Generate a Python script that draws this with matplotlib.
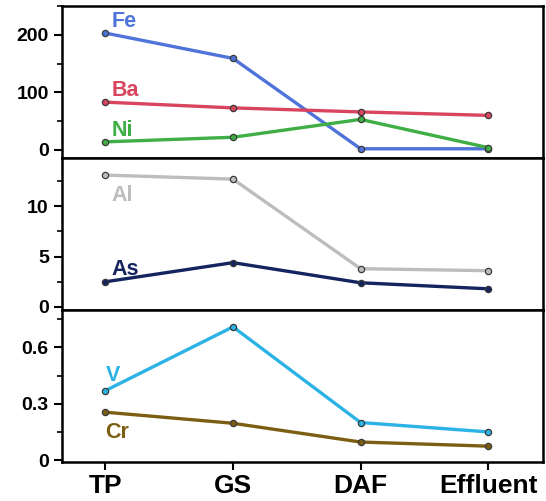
import matplotlib
matplotlib.use("Agg")
import matplotlib.pyplot as plt
from matplotlib.ticker import MultipleLocator

plt.rcParams['font.family'] = ['Liberation Sans', 'DejaVu Sans']
plt.rcParams['font.weight'] = 'bold'

stages = ['TP', 'GS', 'DAF', 'Effluent']

fe = [203, 159, 2, 2]
ba = [83, 73, 66, 60]
ni = [14, 22, 53, 4]
al = [13.1, 12.7, 3.8, 3.6]
as_ = [2.5, 4.4, 2.4, 1.8]
v = [0.37, 0.71, 0.20, 0.15]
cr = [0.255, 0.196, 0.096, 0.074]

panels = [
    [('Fe', fe, '#4f73d9', (0.05, 213)), ('Ba', ba, '#d9455f', (0.05, 93)), ('Ni', ni, '#3fae45', (0.05, 25))],
    [('Al', al, '#bdbdbd', (0.05, 10.5)), ('As', as_, '#14245e', (0.05, 3.2))],
    [('V', v, '#2bb3e6', (0.0, 0.42)), ('Cr', cr, '#7b5e12', (0.0, 0.12))],
]
ylims = [(-14, 250), (-0.3, 14.8), (-0.01, 0.80)]
majors = [100, 5, 0.3]
ticks = [[0, 100, 200], [0, 5, 10], [0, 0.3, 0.6]]
ticklabels = [['0', '100', '200'], ['0', '5', '10'], ['0', '0.3', '0.6']]

fig, axes = plt.subplots(3, 1, sharex=True, figsize=(5.46, 5.01), dpi=100)
fig.subplots_adjust(left=0.1136, right=0.9945, top=0.988, bottom=0.078, hspace=0)

x = range(len(stages))
for ax, series, yl, mj, tk, tl in zip(axes, panels, ylims, majors, ticks, ticklabels):
    for name, vals, col, pos in series:
        ax.plot(x, vals, color=col, lw=2.4, marker='o', ms=4.5,
                mfc=col, mec='#3a3a3a', mew=0.9)
        ax.text(pos[0], pos[1], name, color=col, fontsize=15.5, fontweight='bold')
    ax.set_ylim(*yl)
    ax.set_yticks(tk)
    ax.set_yticklabels(tl)
    ax.yaxis.set_minor_locator(MultipleLocator(mj / 2))
    for s in ax.spines.values():
        s.set_linewidth(1.8)
    ax.tick_params(axis='y', which='major', length=6, width=1.5, labelsize=14)
    ax.tick_params(axis='y', which='minor', length=3.5, width=1.2)
    ax.tick_params(axis='x', which='both', bottom=False)

axes[-1].set_xlim(-0.34, 3.43)
axes[-1].set_xticks(list(x))
axes[-1].set_xticklabels(stages, fontsize=19, fontweight='bold')
axes[-1].tick_params(axis='x', bottom=True, length=6, width=1.5, pad=3)

fig.savefig('out.png', dpi=100)
